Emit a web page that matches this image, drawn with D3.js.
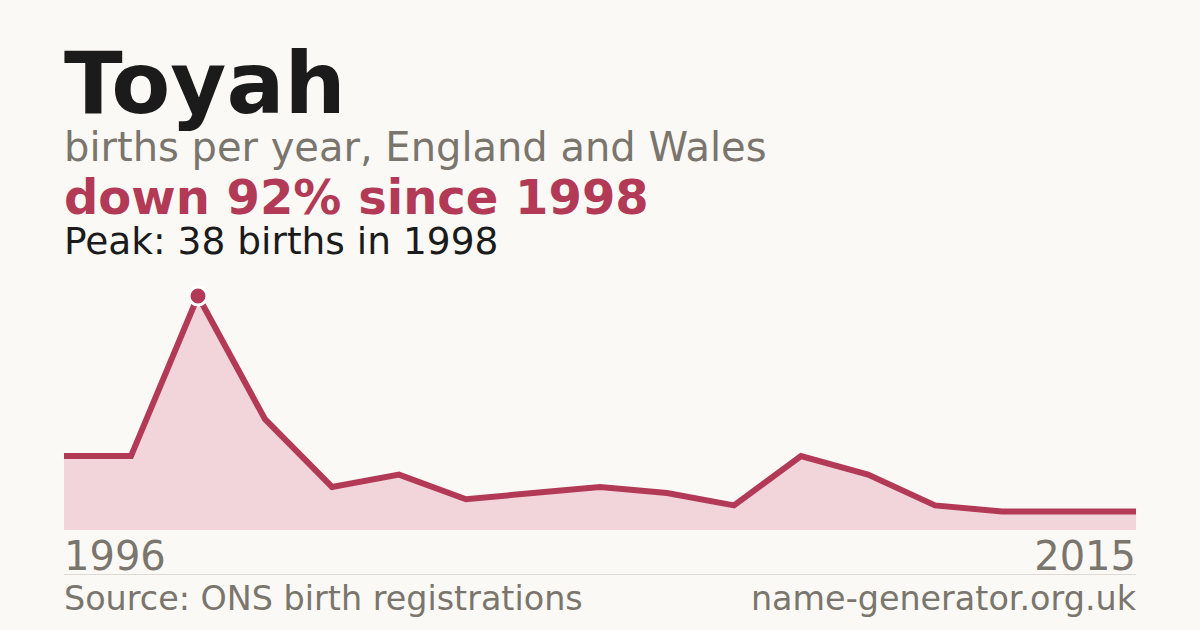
<!DOCTYPE html>
<html>
<head>
<meta charset="utf-8">
<script src="https://cdn.jsdelivr.net/npm/d3@7"></script>
<style>
  html, body { margin: 0; padding: 0; background: #faf9f5; }
  svg { display: block; font-family: "DejaVu Sans", sans-serif; }
</style>
</head>
<body>
<svg id="chart" width="1200" height="630"></svg>
<script>
// births per year
const years = [1996, 1997, 1998, 1999, 2000, 2001, 2002, 2003, 2004, 2005, 2006, 2007, 2008, 2009, 2013, 2014, 2015];
const births = [12, 12, 38, 18, 7, 9, 5, 6, 7, 6, 4, 12, 9, 4, 3, 3, 3];
const axisLabels = ["1996", "2015"];

const peakIdx = births.indexOf(d3.max(births));

const svg = d3.select("#chart");
const plotLeft = 64, plotRight = 1136, plotTop = 296, plotBottom = 530;
const crimson = "#b33a56";
const grey = "#7a756d";

svg.append("rect").attr("width", 1200).attr("height", 630).attr("fill", "#faf9f5");

// headings
svg.append("text").attr("x", plotLeft).attr("y", 113)
  .attr("font-size", 86).attr("font-weight", "bold").attr("fill", "#1b1b1b").text("Toyah");
svg.append("text").attr("x", plotLeft).attr("y", 161)
  .attr("font-size", 40).attr("fill", grey).text("births per year, England and Wales");
let drop = Math.round((1 - births[births.length - 1] / births[peakIdx]) * 100);
svg.append("text").attr("x", plotLeft).attr("y", 214)
  .attr("font-size", 48).attr("font-weight", "bold").attr("fill", crimson)
  .text("down " + drop + "% since " + years[peakIdx]);
svg.append("text").attr("x", plotLeft).attr("y", 254)
  .attr("font-size", 37.5).attr("fill", "#1b1b1b")
  .text("Peak: " + births[peakIdx] + " births in " + years[peakIdx]);

// scales
const x = d3.scalePoint().domain(years).range([plotLeft, plotRight]);
const y = d3.scaleLinear().domain([0, d3.max(births)]).range([plotBottom, plotTop]);

const area = d3.area()
  .x((d, i) => x(years[i]))
  .y0(plotBottom)
  .y1(d => y(d));
const line = d3.line()
  .x((d, i) => x(years[i]))
  .y(d => y(d));

svg.append("path").datum(births).attr("d", area).attr("fill", "#f1d5da");
svg.append("path").datum(births).attr("d", line)
  .attr("fill", "none").attr("stroke", crimson).attr("stroke-width", 6)
  .attr("stroke-linejoin", "miter");

svg.append("circle")
  .attr("cx", x(years[peakIdx])).attr("cy", y(births[peakIdx]))
  .attr("r", 9).attr("fill", crimson).attr("stroke", "#ffffff").attr("stroke-width", 3);

// year labels
svg.append("text").attr("x", plotLeft).attr("y", 570)
  .attr("font-size", 40).attr("fill", grey).text(axisLabels[0]);
svg.append("text").attr("x", plotRight).attr("y", 570).attr("text-anchor", "end")
  .attr("font-size", 40).attr("fill", grey).text(axisLabels[1]);

svg.append("line").attr("x1", plotLeft).attr("x2", plotRight).attr("y1", 574.5).attr("y2", 574.5)
  .attr("stroke", "#dedad3").attr("stroke-width", 1);

svg.append("text").attr("x", plotLeft).attr("y", 610)
  .attr("font-size", 33.4).attr("fill", grey).text("Source: ONS birth registrations");
svg.append("text").attr("x", plotRight).attr("y", 610).attr("text-anchor", "end")
  .attr("font-size", 33.4).attr("fill", grey).text("name-generator.org.uk");
</script>
</body>
</html>
